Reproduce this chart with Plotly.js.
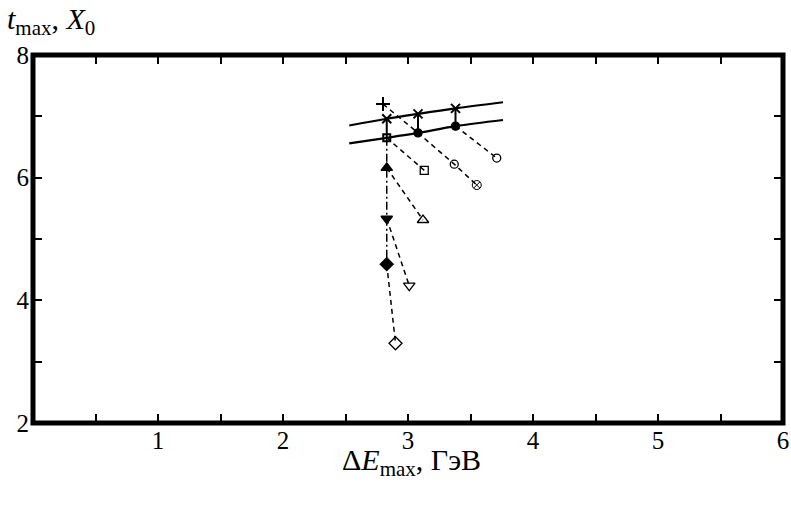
<!DOCTYPE html>
<html><head><meta charset="utf-8">
<script src="https://cdn.plot.ly/plotly-3.0.1.min.js"></script>
<style>body{margin:0;background:#fff}#c{width:791px;height:505px}</style>
</head><body><div id="c"></div>
<script>
// Curves
const upperX = [2.53, 2.83, 3.08, 3.38, 3.76];
const upperY = [6.85, 6.96, 7.04, 7.13, 7.23];
const lowerX = [2.53, 2.83, 3.08, 3.38, 3.76];
const lowerY = [6.56, 6.65, 6.73, 6.84, 6.94];
// Points on curves
const xMarkX = [2.83, 3.08, 3.38];
const xMarkY = [6.96, 7.04, 7.13];
const plusX = [2.80], plusY = [7.20];
const lowSqX = [2.83], lowSqY = [6.65];
const fCircX = [3.08, 3.38], fCircY = [6.73, 6.84];
const oCircX = [3.37, 3.71], oCircY = [6.22, 6.32];
const otX = [3.55], otY = [5.88];
const oSqX = [3.13], oSqY = [6.12];
const fTriUpX = [2.83], fTriUpY = [6.16];
const fTriDnX = [2.83], fTriDnY = [5.33];
const fDiaX = [2.83], fDiaY = [4.59];
const oTriUpX = [3.12], oTriUpY = [5.31];
const oTriDnX = [3.01], oTriDnY = [4.24];
const oDiaX = [2.90], oDiaY = [3.30];
// Ticks
const xTickVals = [0.5,1,1.5,2,2.5,3,3.5,4,4.5,5,5.5,6];
const xTickText = ['','1','','2','','3','','4','','5','','6'];
const yTickVals = [2,3,4,5,6,7,8];
const yTickText = ['2','','4','','6','','8'];

const K = '#000';
const dash = '5px,4px';
const SERIF = 'Liberation Serif';
function line(x, y, d, w) {
  return {x, y, mode:'lines', line:{color:K, width:w||1.5, dash:d||'solid'}, hoverinfo:'skip'};
}
function mk(x, y, sym, size, lw) {
  return {x, y, mode:'markers', marker:{symbol:sym, size:size, color:K, line:{color:K, width:lw||1.3}}, hoverinfo:'skip'};
}
const traces = [
  {x:upperX, y:upperY, mode:'lines', line:{color:K, width:2.2, shape:'spline'}},
  {x:lowerX, y:lowerY, mode:'lines', line:{color:K, width:2.2, shape:'spline'}},
  line([plusX[0], fCircX[0], oCircX[0], otX[0]], [plusY[0], fCircY[0], oCircY[0], otY[0]], dash),
  line([fCircX[1], oCircX[1]], [fCircY[1], oCircY[1]], dash),
  line([lowSqX[0], oSqX[0]], [lowSqY[0], oSqY[0]], dash),
  line([fTriUpX[0], oTriUpX[0]], [fTriUpY[0], oTriUpY[0]], dash),
  line([fTriDnX[0], oTriDnX[0]], [fTriDnY[0], oTriDnY[0]], dash),
  line([fDiaX[0], oDiaX[0]], [fDiaY[0], oDiaY[0]], dash),
  line([lowSqX[0], fTriUpX[0], fTriDnX[0], fDiaX[0]], [lowSqY[0], fTriUpY[0], fTriDnY[0], fDiaY[0]], '8px,3px,2px,3px'),
  line([xMarkX[0], lowSqX[0]], [xMarkY[0], lowSqY[0]], 'solid', 2),
  line([xMarkX[1], fCircX[0]], [xMarkY[1], fCircY[0]], 'solid', 2),
  line([xMarkX[2], fCircX[1]], [xMarkY[2], fCircY[1]], 'solid', 2),
  mk(xMarkX, xMarkY, 'x-thin-open', 9, 2),
  mk(plusX, plusY, 'cross-thin-open', 10, 2),
  mk(lowSqX, lowSqY, 'square-open', 7, 2),
  mk(fCircX, fCircY, 'circle', 8),
  mk(oCircX, oCircY, 'circle-open', 8),
  mk(otX, otY, 'circle-x-open', 9, 1),
  mk(oSqX, oSqY, 'square-open', 8),
  mk(fTriUpX, fTriUpY, 'triangle-up', 10),
  mk(fTriDnX, fTriDnY, 'triangle-down', 10),
  mk(fDiaX, fDiaY, 'diamond', 10),
  mk(oTriUpX, oTriUpY, 'triangle-up-open', 10),
  mk(oTriDnX, oTriDnY, 'triangle-down-open', 10),
  mk(oDiaX, oDiaY, 'diamond-open', 10)
];
const tf = {family:SERIF, size:25, color:K};
const layout = {
  width:791, height:505,
  margin:{l:33, r:8, t:55, b:82},
  paper_bgcolor:'#fff', plot_bgcolor:'#fff',
  showlegend:false,
  font:tf,
  xaxis:{range:[0,6], tickvals:xTickVals, ticktext:xTickText, ticks:'inside', ticklen:9, tickwidth:2, tickcolor:K,
         mirror:'ticks', showline:false, showgrid:false, zeroline:false, tickfont:tf, fixedrange:true},
  yaxis:{range:[2,8], tickvals:yTickVals, ticktext:yTickText, ticks:'inside', ticklen:9, tickwidth:2, tickcolor:K,
         ticklabelstandoff:3,
         mirror:'ticks', showline:false, showgrid:false, zeroline:false, tickfont:tf, fixedrange:true},
  shapes:[{type:'rect', xref:'paper', yref:'paper', x0:0, x1:1, y0:0, y1:1, line:{color:K, width:5}}],
  annotations:[
    {xref:'paper', yref:'paper', x:0.505, y:-0.05, xanchor:'center', yanchor:'top', showarrow:false,
     text:'Δ<i>E</i><sub>max</sub>, ГэВ', font:{family:SERIF, size:30, color:K}},
    {xref:'paper', yref:'paper', x:-0.037, y:1.035, xanchor:'left', yanchor:'bottom', showarrow:false,
     text:'<i>t</i><sub>max</sub>, <i>X</i><sub>0</sub>', font:{family:SERIF, size:30, color:K}}
  ]
};
Plotly.newPlot('c', traces, layout, {staticPlot:true, displayModeBar:false});
</script></body></html>
